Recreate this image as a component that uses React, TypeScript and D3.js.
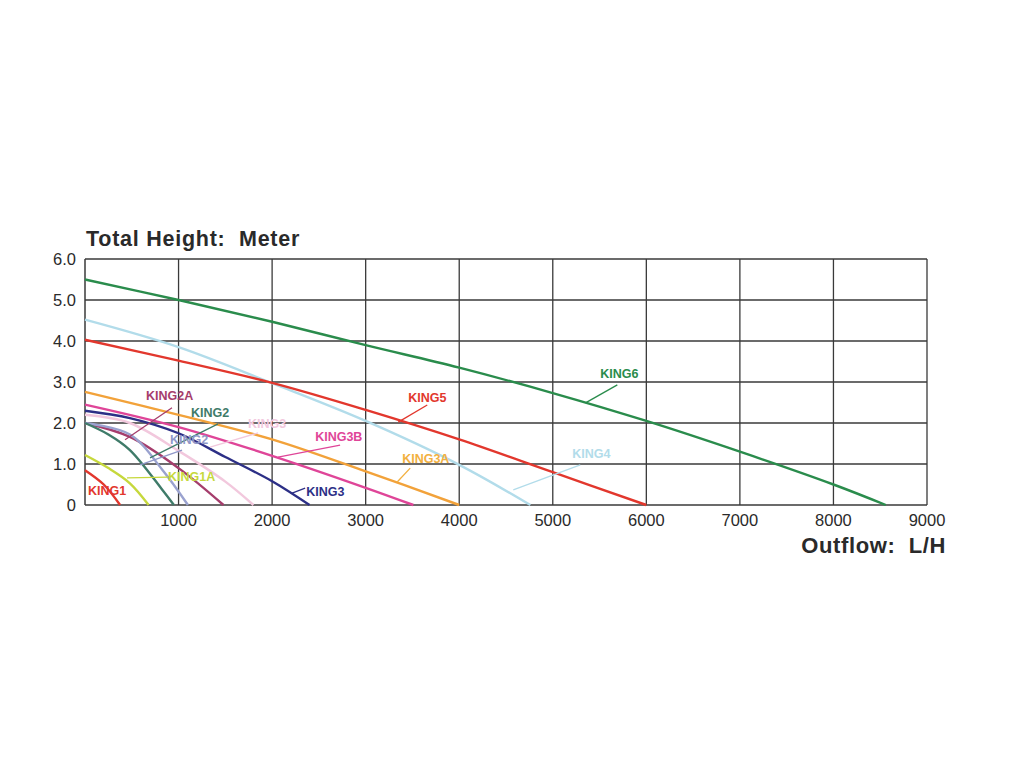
import React from "react";
import * as d3 from "d3";

// ---- axis data ----
const xTickValues = [1000, 2000, 3000, 4000, 5000, 6000, 7000, 8000, 9000];
const yTickValues = [0, 1, 2, 3, 4, 5, 6];
const yTickLabels = ["0", "1.0", "2.0", "3.0", "4.0", "5.0", "6.0"];

// ---- series data: [flow L/H, head m] ----
const KING6 = [[0, 5.5], [1000, 5.0], [2000, 4.47], [3000, 3.9], [4000, 3.35], [5000, 2.73], [6000, 2.05], [7000, 1.3], [8000, 0.5], [8560, 0]];
const KING4 = [[0, 4.52], [1000, 3.85], [2000, 2.97], [3000, 2.05], [4000, 0.98], [4760, 0]];
const KING5 = [[0, 4.03], [1000, 3.52], [2000, 2.98], [3000, 2.32], [4000, 1.6], [5000, 0.8], [6000, 0]];
const KING3A = [[0, 2.76], [1000, 2.2], [2000, 1.6], [3000, 0.82], [4000, 0]];
const KING3B = [[0, 2.45], [1000, 1.9], [2000, 1.2], [3000, 0.42], [3510, 0]];
const KING3P = [[0, 2.2], [480, 2.0], [1000, 1.32], [1500, 0.57], [1800, 0]];
const KING3 = [[0, 2.3], [480, 2.12], [1000, 1.75], [1500, 1.17], [2000, 0.58], [2400, 0]];
const KING2A = [[0, 2.0], [480, 1.66], [1000, 0.9], [1480, 0]];
const KING2B = [[0, 2.0], [480, 1.72], [830, 0.85], [1100, 0]];
const KING2 = [[0, 2.0], [250, 1.72], [480, 1.34], [830, 0.36], [950, 0]];
const KING1A = [[0, 1.22], [250, 0.9], [480, 0.53], [680, 0]];
const KING1 = [[0, 0.85], [200, 0.5], [375, 0]];

const seriesData = [KING6, KING4, KING5, KING3A, KING3B, KING3P, KING3, KING2A, KING2B, KING2, KING1A, KING1];
const seriesColors = ["#2a8c4c", "#b2dcea", "#e2372d", "#f2a23a", "#df4598", "#f2c8dd", "#2c2f86", "#a53d6c", "#9aa2cf", "#3f7b69", "#c6d83c", "#e2372d"];

// ---- labels (text, text anchor point, leader from, leader to) in data units ----
const labelTexts = ["KING6", "KING5", "KING4", "KING3A", "KING3B", "KING3", "KING3", "KING2A", "KING2", "KING2", "KING1A", "KING1"];
const labelColors = ["#2a8c4c", "#e2372d", "#b2dcea", "#f2b040", "#df4598", "#2c2f86", "#f2c8dd", "#a53d6c", "#3f7b69", "#8f98c8", "#c6d83c", "#e2372d"];
const labelPos = [[5508, 3.1], [3455, 2.51], [5209, 1.15], [3390, 1.02], [2460, 1.56], [2364, 0.22], [1743, 1.88], [652, 2.56], [1134, 2.15], [909, 1.49], [888, 0.59], [32, 0.24]];
const leaderFrom = [[5690, 2.93], [3658, 2.44], [5294, 0.98], [3476, 0.9], [2727, 1.46], [2353, 0.41], [1850, 1.76], [930, 2.37], [1422, 1.98], [1037, 1.34], [888, 0.68], null];
const leaderTo = [[5350, 2.49], [3348, 2.02], [4578, 0.37], [3337, 0.56], [2064, 1.17], [2214, 0.29], [1337, 1.41], [428, 1.59], [695, 1.15], [588, 0.98], [449, 0.66], null];

export default function App() {
  const x = d3.scaleLinear().domain([0, 9000]).range([85, 927]);
  const y = d3.scaleLinear().domain([0, 6]).range([505, 259]);
  const line = d3
    .line<number[]>()
    .x((d) => x(d[0]))
    .y((d) => y(d[1]))
    .curve(d3.curveCatmullRom.alpha(0.5));

  const gridColor = "#3a3a3a";
  const textColor = "#2a2a2a";

  return (
    <svg
      width={1024}
      height={768}
      style={{ position: "absolute", left: 0, top: 0, background: "#fff" }}
      fontFamily="'Liberation Sans', Arial, sans-serif"
    >
      <rect x={0} y={0} width={1024} height={768} fill="#fff" />
      {/* grid */}
      {xTickValues.map((v) => (
        <line key={"gx" + v} x1={x(v)} x2={x(v)} y1={y(0)} y2={y(6)} stroke={gridColor} strokeWidth={1.3} />
      ))}
      {yTickValues.map((v) => (
        <line key={"gy" + v} x1={x(0)} x2={x(9000)} y1={y(v)} y2={y(v)} stroke={gridColor} strokeWidth={1.3} />
      ))}
      <line x1={x(0)} x2={x(0)} y1={y(0)} y2={y(6)} stroke={gridColor} strokeWidth={1.5} />
      {/* series */}
      {seriesData.map((s, i) => (
        <path key={"s" + i} d={line(s as number[][]) || ""} fill="none" stroke={seriesColors[i]} strokeWidth={2.4} />
      ))}
      {/* leaders */}
      {leaderFrom.map((f, i) =>
        f && leaderTo[i] ? (
          <line
            key={"ld" + i}
            x1={x(f[0])}
            y1={y(f[1])}
            x2={x((leaderTo[i] as number[])[0])}
            y2={y((leaderTo[i] as number[])[1])}
            stroke={labelColors[i]}
            strokeWidth={1.3}
          />
        ) : null
      )}
      {/* labels */}
      {labelTexts.map((t, i) => (
        <text
          key={"lb" + i}
          x={x(labelPos[i][0])}
          y={y(labelPos[i][1])}
          fill={labelColors[i]}
          fontSize={12.5}
          fontFamily="'Liberation Sans Narrow', 'Liberation Sans', Arial, sans-serif"
          fontWeight="bold"
        >
          {t}
        </text>
      ))}
      {/* y tick labels */}
      {yTickValues.map((v, i) => (
        <text key={"yt" + v} x={76} y={y(v)} dy="0.36em" textAnchor="end" fontSize={16.5} fill={textColor}>
          {yTickLabels[i]}
        </text>
      ))}
      {/* x tick labels */}
      {xTickValues.map((v) => (
        <text key={"xt" + v} x={x(v)} y={526} textAnchor="middle" fontSize={16.5} fill={textColor}>
          {v}
        </text>
      ))}
      {/* axis titles */}
      <text x={86} y={246} fontSize={21.5} fontWeight="bold" fill={textColor} letterSpacing={0.75}>
        Total Height:{"\u00a0\u00a0"}Meter
      </text>
      <text x={946} y={553} fontSize={22} fontWeight="bold" fill={textColor} textAnchor="end" letterSpacing={0.6}>
        Outflow:{"\u00a0\u00a0"}L/H
      </text>
    </svg>
  );
}
